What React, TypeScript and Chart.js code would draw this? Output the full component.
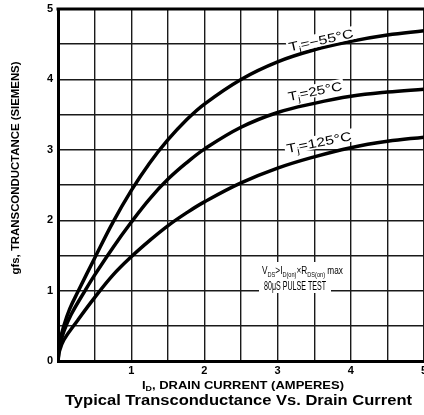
import { useEffect, useRef } from 'react';
import { Chart, registerables } from 'chart.js';

Chart.register(...registerables);

// ---- data ----
const drainCurrentM55 = [0, 0.02, 0.08, 0.16, 0.28, 0.5, 0.75, 1.0, 1.25, 1.5, 1.75, 2.0, 2.5, 3, 3.5, 4, 4.5, 5];
const gfsM55 = [0, 0.25, 0.5, 0.74, 1.0, 1.46, 1.97, 2.42, 2.81, 3.14, 3.42, 3.65, 4.0, 4.25, 4.42, 4.54, 4.63, 4.69];

const drainCurrent25 = [0, 0.02, 0.08, 0.18, 0.37, 0.5, 0.75, 1.0, 1.25, 1.5, 1.75, 2.0, 2.5, 3, 3.5, 4, 4.5, 5];
const gfs25 = [0, 0.2, 0.42, 0.66, 1.0, 1.22, 1.61, 1.97, 2.3, 2.58, 2.81, 3.01, 3.32, 3.53, 3.66, 3.76, 3.82, 3.86];

const drainCurrent125 = [0, 0.02, 0.08, 0.27, 0.5, 0.75, 1.0, 1.25, 1.5, 1.75, 2.0, 2.5, 3, 3.5, 4, 4.5, 5];
const gfs125 = [0, 0.14, 0.3, 0.58, 0.9, 1.22, 1.48, 1.71, 1.92, 2.1, 2.26, 2.53, 2.74, 2.9, 3.03, 3.12, 3.18];

const xTickLabels = ['', '1', '2', '3', '4', '5'];
const yTickLabels = ['0', '1', '2', '3', '4', '5'];

const seriesTemps = ['−55°C', '25°C', '125°C'];

const FONT = "'Liberation Sans', Arial, Helvetica, sans-serif";

type Seg = { t: string; sub?: boolean };

function segFont(size: number, weight: string, sub?: boolean) {
  return `${weight} ${sub ? Math.round(size * 0.68 * 10) / 10 : size}px ${FONT}`;
}

function richWidth(ctx: CanvasRenderingContext2D, segs: Seg[], size: number, weight: string) {
  let w = 0;
  for (const s of segs) {
    ctx.font = segFont(size, weight, s.sub);
    w += ctx.measureText(s.t).width;
  }
  return w;
}

// draws text with fixed font size, horizontally scaled to fit target width
function drawFit(
  ctx: CanvasRenderingContext2D,
  segs: Seg[],
  x: number,
  baseline: number,
  size: number,
  weight: string,
  align: 'left' | 'center',
  target: number
) {
  const w = richWidth(ctx, segs, size, weight);
  const hs = target / w;
  ctx.save();
  ctx.translate(align === 'center' ? x - target / 2 : x, baseline);
  ctx.scale(hs, 1);
  ctx.textBaseline = 'alphabetic';
  ctx.textAlign = 'left';
  let cx = 0;
  for (const s of segs) {
    ctx.font = segFont(size, weight, s.sub);
    ctx.fillText(s.t, cx, s.sub ? size * 0.22 : 0);
    cx += ctx.measureText(s.t).width;
  }
  ctx.restore();
}

const labelPlugin = {
  id: 'sheetText',
  afterDraw(chart: any) {
    const ctx: CanvasRenderingContext2D = chart.ctx;
    const area = chart.chartArea;
    ctx.save();
    ctx.fillStyle = '#000';
    ctx.strokeStyle = '#000';

    // top frame line
    ctx.lineWidth = 3;
    ctx.beginPath();
    ctx.moveTo(area.left - 1.5, area.top);
    ctx.lineTo(area.right, area.top);
    ctx.stroke();

    // curve labels
    const curveLabels = [
      { temp: seriesTemps[0], cx: 321, cy: 40, ang: -12.5, w: 66 },
      { temp: seriesTemps[1], cx: 315, cy: 91, ang: -11.5, w: 55 },
      { temp: seriesTemps[2], cx: 319, cy: 142, ang: -11.5, w: 66 },
    ];
    for (const l of curveLabels) {
      const segs: Seg[] = [{ t: 'T' }, { t: 'j', sub: true }, { t: '=' + l.temp }];
      const size = 12.5;
      ctx.save();
      ctx.translate(l.cx, l.cy);
      ctx.rotate((l.ang * Math.PI) / 180);
      ctx.fillStyle = '#fff';
      ctx.fillRect(-l.w / 2 - 2, -size * 0.55, l.w + 4, size * 1.05);
      ctx.fillStyle = '#000';
      drawFit(ctx, segs, 0, size * 0.36, size, 'normal', 'center', l.w);
      ctx.restore();
    }

    // annotation
    const line1: Seg[] = [
      { t: 'V' }, { t: 'DS', sub: true }, { t: '>I' }, { t: 'D(on)', sub: true },
      { t: '×R' }, { t: 'DS(on)', sub: true }, { t: ' max' },
    ];
    const line2: Seg[] = [{ t: '80μS PULSE TEST' }];
    ctx.fillStyle = '#fff';
    ctx.fillRect(259, 262, 88, 16);
    ctx.fillRect(259, 277, 72, 16);
    ctx.fillStyle = '#000';
    drawFit(ctx, line1, 262, 274, 11.5, 'normal', 'left', 81);
    drawFit(ctx, line2, 264, 289.5, 12, 'normal', 'left', 62);

    // x axis title
    const xt: Seg[] = [{ t: 'I' }, { t: 'D', sub: true }, { t: ', DRAIN CURRENT (AMPERES)' }];
    drawFit(ctx, xt, 243, 389, 11, 'bold', 'center', 202);

    // main title
    const mt: Seg[] = [{ t: 'Typical Transconductance Vs. Drain Current' }];
    drawFit(ctx, mt, 238.5, 405, 14, 'bold', 'center', 347);

    // y axis title
    const yt: Seg[] = [{ t: 'gfs, TRANSCONDUCTANCE (SIEMENS)' }];
    ctx.save();
    ctx.translate(15, 168);
    ctx.rotate(-Math.PI / 2);
    drawFit(ctx, yt, 0, 4, 11, 'bold', 'center', 213);
    ctx.restore();

    ctx.restore();
  },
};

export default function App() {
  const ref = useRef<HTMLCanvasElement | null>(null);

  useEffect(() => {
    document.body.style.margin = '0';
    const canvas = ref.current;
    if (!canvas) return;
    const mk = (xs: number[], ys: number[]) => xs.map((x, i) => ({ x, y: ys[i] }));
    const ds = (label: string, xs: number[], ys: number[]) => ({
      label,
      data: mk(xs, ys),
      borderColor: '#000',
      backgroundColor: '#000',
      borderWidth: 3.5,
      pointRadius: 0,
      fill: false,
      tension: 0.4,
      borderCapStyle: 'round' as const,
      borderJoinStyle: 'round' as const,
    });

    const chart = new Chart(canvas, {
      type: 'line',
      data: {
        datasets: [
          ds('Tj=' + seriesTemps[0], drainCurrentM55, gfsM55),
          ds('Tj=' + seriesTemps[1], drainCurrent25, gfs25),
          ds('Tj=' + seriesTemps[2], drainCurrent125, gfs125),
        ],
      },
      options: {
        animation: false,
        responsive: false,
        devicePixelRatio: 1,
        layout: { padding: { top: 9, left: 0, right: 0, bottom: 0 } },
        plugins: { legend: { display: false }, tooltip: { enabled: false }, title: { display: false } },
        scales: {
          x: {
            type: 'linear',
            min: 0,
            max: 5,
            ticks: {
              stepSize: 0.5,
              autoSkip: false,
              maxRotation: 0,
              padding: 3,
              color: '#000',
              font: { family: FONT, size: 11, weight: 'bold' },
              callback: (v: any) => (Number.isInteger(v) ? xTickLabels[v] : ''),
            },
            grid: { color: '#1a1a1a', lineWidth: 1.4, drawTicks: false },
            border: { display: true, color: '#000', width: 3 },
            afterFit: (scale: any) => {
              scale.height = 54;
              scale.paddingLeft = 0;
              scale.paddingRight = 0;
            },
          },
          y: {
            type: 'linear',
            min: 0,
            max: 5,
            ticks: {
              stepSize: 0.5,
              autoSkip: false,
              padding: 5,
              color: '#000',
              font: { family: FONT, size: 11, weight: 'bold' },
              callback: (v: any) => (Number.isInteger(v) ? yTickLabels[v] : ''),
            },
            grid: { color: '#1a1a1a', lineWidth: 1.4, drawTicks: false },
            border: { display: true, color: '#000', width: 3 },
            afterFit: (scale: any) => {
              scale.width = 58;
              scale.paddingTop = 0;
              scale.paddingBottom = 0;
            },
          },
        },
      },
      plugins: [labelPlugin],
    } as any);
    return () => chart.destroy();
  }, []);

  return (
    <div style={{ position: 'absolute', left: 0, top: 0, width: 424, height: 415, background: '#fff' }}>
      <canvas ref={ref} width={424} height={415} style={{ width: 424, height: 415, display: 'block' }} />
    </div>
  );
}
